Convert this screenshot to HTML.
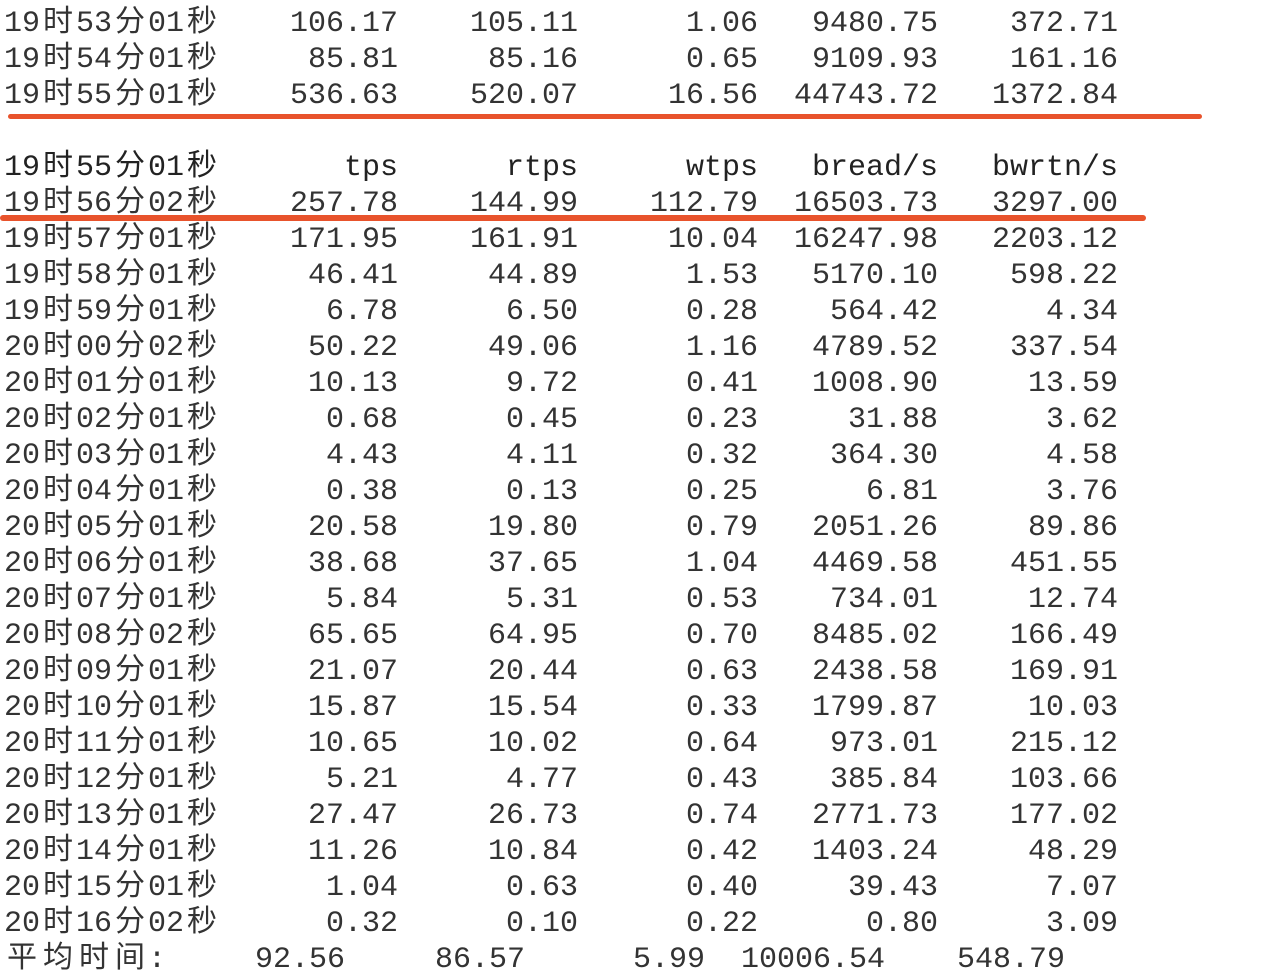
<!DOCTYPE html>
<html><head><meta charset="utf-8"><style>
html,body{margin:0;padding:0;background:#fff;}
#term{position:relative;width:1284px;height:980px;overflow:hidden;font-family:"Liberation Mono","Noto Sans CJK SC",monospace;font-size:30px;color:#333;}
.row{position:absolute;left:0;height:36px;line-height:36px;width:1284px;white-space:pre;}
.c{display:inline-block;text-align:center;}
.cell{position:absolute;text-align:right;width:180px;}
.hdr{color:#222;}
.redline{position:absolute;background:#e8532c;border-radius:3px;}
</style></head><body>
<div id="term">
<div class="redline" style="left:8px;top:114px;width:1194px;height:5px"></div>
<div class="redline" style="left:0px;top:215px;width:1146px;height:6px"></div>
</div>
<script>
const times=["19时53分01秒","19时54分01秒","19时55分01秒",null,"19时55分01秒","19时56分02秒","19时57分01秒","19时58分01秒","19时59分01秒","20时00分02秒","20时01分01秒","20时02分01秒","20时03分01秒","20时04分01秒","20时05分01秒","20时06分01秒","20时07分01秒","20时08分02秒","20时09分01秒","20时10分01秒","20时11分01秒","20时12分01秒","20时13分01秒","20时14分01秒","20时15分01秒","20时16分02秒"];
const tps=["106.17","85.81","536.63","","tps","257.78","171.95","46.41","6.78","50.22","10.13","0.68","4.43","0.38","20.58","38.68","5.84","65.65","21.07","15.87","10.65","5.21","27.47","11.26","1.04","0.32"];
const rtps=["105.11","85.16","520.07","","rtps","144.99","161.91","44.89","6.50","49.06","9.72","0.45","4.11","0.13","19.80","37.65","5.31","64.95","20.44","15.54","10.02","4.77","26.73","10.84","0.63","0.10"];
const wtps=["1.06","0.65","16.56","","wtps","112.79","10.04","1.53","0.28","1.16","0.41","0.23","0.32","0.25","0.79","1.04","0.53","0.70","0.63","0.33","0.64","0.43","0.74","0.42","0.40","0.22"];
const bread=["9480.75","9109.93","44743.72","","bread/s","16503.73","16247.98","5170.10","564.42","4789.52","1008.90","31.88","364.30","6.81","2051.26","4469.58","734.01","8485.02","2438.58","1799.87","973.01","385.84","2771.73","1403.24","39.43","0.80"];
const bwrtn=["372.71","161.16","1372.84","","bwrtn/s","3297.00","2203.12","598.22","4.34","337.54","13.59","3.62","4.58","3.76","89.86","451.55","12.74","166.49","169.91","10.03","215.12","103.66","177.02","48.29","7.07","3.09"];
const avgLabel="平均时间:";
const avgVals=["92.56","86.57","5.99","10006.54","548.79"];
const cols=[tps,rtps,wtps,bread,bwrtn];
const colNames=["tps","rtps","wtps","bread","bwrtn"];
const term=document.getElementById('term');
function label(row,text){
  const s=document.createElement('span');
  s.style.position='absolute';s.style.left='4px';
  for(const ch of text){
    const c=document.createElement('span');
    c.className='c';
    c.textContent=ch;
    c.style.width=(/[\x00-\x7f]/.test(ch)?18:36)+'px';
    s.appendChild(c);
  }
  
  
  row.appendChild(s);
}
function addRow(i){
  const r=document.createElement('div');
  r.className='row';r.style.top=(6+36*i)+'px';
  
  
  return r;
}
for(let i=0;i<times.length;i++){
  if(times[i]===null)continue;
  const r=addRow(i);
  if(i===4)r.classList.add('hdr');
  label(r,times[i]);
  for(let k=0;k<5;k++){
    const c=document.createElement('span');
    c.className='cell';
    c.style.left=(218+180*k)+'px';
    c.textContent=cols[k][i];
    
    
    r.appendChild(c);
  }
  term.appendChild(r);
}
const ar=addRow(26);

label(ar,avgLabel);
for(let k=0;k<5;k++){
  const c=document.createElement('span');
  c.className='cell';
  c.style.left=(165+180*k)+'px';
  c.textContent=avgVals[k];
  
  
  ar.appendChild(c);
}
term.appendChild(ar);
</script>
</body></html>
